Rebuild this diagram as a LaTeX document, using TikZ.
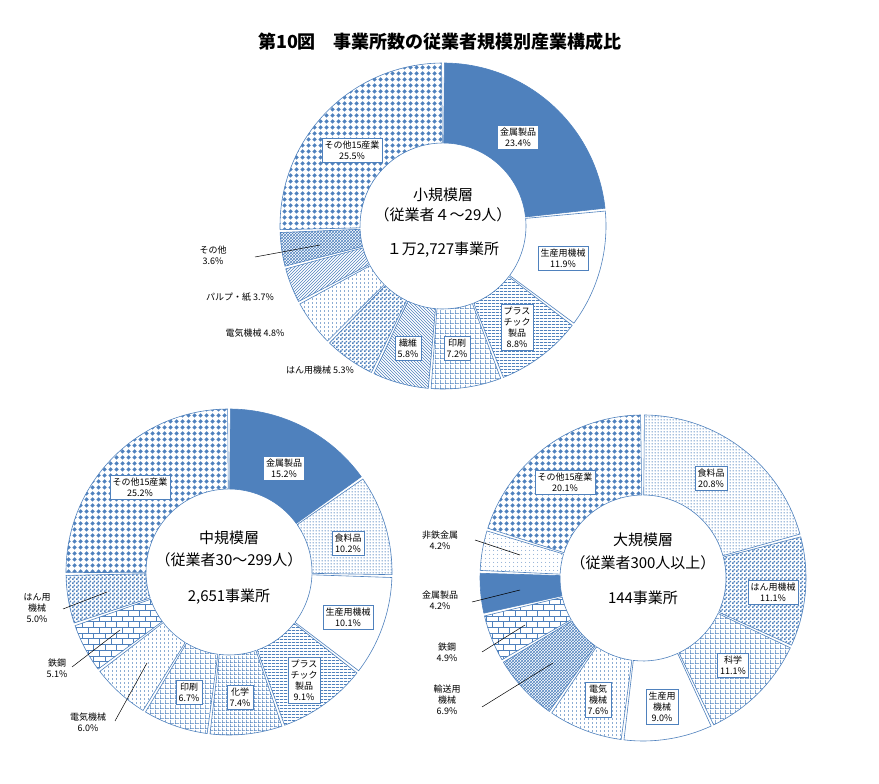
\documentclass[tikz,border=0pt]{standalone}
\usepackage{fontspec}
\setmainfont{Noto Sans CJK JP}
\usetikzlibrary{patterns,calc}
\definecolor{cb}{HTML}{4F81BD}
\pgfdeclarepatternformonly{diam}{\pgfpointorigin}{\pgfpoint{6pt}{6pt}}{\pgfpoint{6pt}{6pt}}{%
 \pgfpathmoveto{\pgfpoint{3pt}{0.4pt}}\pgfpathlineto{\pgfpoint{5.6pt}{3pt}}\pgfpathlineto{\pgfpoint{3pt}{5.6pt}}\pgfpathlineto{\pgfpoint{0.4pt}{3pt}}\pgfpathclose\pgfusepath{fill}}
\pgfdeclarepatternformonly{hthick}{\pgfpointorigin}{\pgfpoint{4pt}{3pt}}{\pgfpoint{4pt}{3pt}}{%
 \pgfpathrectangle{\pgfpointorigin}{\pgfpoint{4pt}{1.3pt}}\pgfusepath{fill}}
\pgfdeclarepatternformonly{vdash}{\pgfpointorigin}{\pgfpoint{4pt}{4pt}}{\pgfpoint{4pt}{4pt}}{%
 \pgfpathrectangle{\pgfpointorigin}{\pgfpoint{0.8pt}{2.2pt}}\pgfusepath{fill}}
\pgfdeclarepatternformonly{gridb}{\pgfpointorigin}{\pgfpoint{5pt}{5pt}}{\pgfpoint{5pt}{5pt}}{%
 \pgfpathrectangle{\pgfpointorigin}{\pgfpoint{5pt}{0.7pt}}\pgfpathrectangle{\pgfpointorigin}{\pgfpoint{0.7pt}{5pt}}\pgfusepath{fill}}
\pgfdeclarepatternformonly{gridf}{\pgfpointorigin}{\pgfpoint{3.5pt}{3.5pt}}{\pgfpoint{3.5pt}{3.5pt}}{%
 \pgfpathrectangle{\pgfpointorigin}{\pgfpoint{3.5pt}{0.7pt}}\pgfpathrectangle{\pgfpointorigin}{\pgfpoint{0.7pt}{3.5pt}}\pgfusepath{fill}}
\pgfdeclarepatternformonly{ddots}{\pgfpointorigin}{\pgfpoint{3pt}{3pt}}{\pgfpoint{3pt}{3pt}}{%
 \pgfpathcircle{\pgfpoint{1.5pt}{1.5pt}}{0.85pt}\pgfusepath{fill}}
\pgfdeclarepatternformonly{sdots}{\pgfpointorigin}{\pgfpoint{4pt}{4pt}}{\pgfpoint{4pt}{4pt}}{%
 \pgfpathcircle{\pgfpoint{2pt}{2pt}}{0.5pt}\pgfusepath{fill}}
\pgfdeclarepatternformonly{chk}{\pgfpointorigin}{\pgfpoint{4pt}{4pt}}{\pgfpoint{4pt}{4pt}}{%
 \pgfpathrectangle{\pgfpointorigin}{\pgfpoint{2pt}{2pt}}\pgfpathrectangle{\pgfpoint{2pt}{2pt}}{\pgfpoint{2pt}{2pt}}\pgfusepath{fill}}
\tikzset{
 s-solid/.style={fill=cb},
 s-none/.style={fill=white},
 s-hl/.style={pattern=hthick,pattern color=cb},
 s-vl/.style={pattern=vdash,pattern color=cb},
 s-ne/.style={pattern=north east lines,pattern color=cb},
 s-nw/.style={pattern=north west lines,pattern color=cb},
 s-grid/.style={pattern=gridb,pattern color=cb},
 s-gridf/.style={pattern=gridf,pattern color=cb},
 s-ch/.style={pattern=crosshatch,pattern color=cb},
 s-diam/.style={pattern=diam,pattern color=cb},
 s-dots/.style={pattern=ddots,pattern color=cb},
 s-sdots/.style={pattern=sdots,pattern color=cb},
 s-brick/.style={pattern=bricks,pattern color=cb},
 s-check/.style={pattern=chk,pattern color=cb},
 lab/.style={draw=cb,fill=white,font=\fontsize{9}{11}\selectfont,align=center,inner sep=2.5pt},
 olab/.style={font=\fontsize{9}{11}\selectfont,align=center,inner sep=1pt},
 ctr/.style={font=\fontsize{15}{17}\selectfont},
 lead/.style={draw=black,line width=.5pt},
}
\newcommand\donut[3]{%
 \foreach \v/\p [remember=\e as \s (initially 0), evaluate=\v as \e using \s+\v] in {#3}{
   \pgfmathsetmacro\aa{90-3.6*\s-0.5}\pgfmathsetmacro\ab{90-3.6*\e+0.5}
   \path[\p,draw=cb,line width=.6pt] (#1,#2) ++(\aa:163) arc[start angle=\aa,end angle=\ab,radius=163] -- ($(#1,#2)+(\ab:83)$) arc[start angle=\ab,end angle=\aa,radius=83] -- cycle;
 }}
\begin{document}
\begin{tikzpicture}[x=1pt,y=1pt]
\useasboundingbox (0,0) rectangle (879,784);
\node[font=\bfseries\fontsize{18}{20}\selectfont] (title) at (440,742) {第10図　事業所数の従業者規模別産業構成比};
% top
\donut{443}{558}{23.4/s-solid,11.9/s-none,8.8/s-hl,7.2/s-grid,5.8/s-nw,5.3/s-check,4.8/s-vl,3.7/s-ne,3.6/s-ch,25.5/s-diam}
\node[ctr] (t1) at (443,589) {小規模層};
\node[ctr] (t2) at (443,569) {（従業者４～29人）};
\node[ctr] (t3) at (443,534) {１万2,727事業所};
\node[lab] (ta) at (518,647) {金属製品\\23.4\%};
\node[lab] (tb) at (563,526) {生産用機械\\11.9\%};
\node[lab] (tc) at (517,457) {プラス\\チック\\製品\\8.8\%};
\node[lab] (td) at (457,436) {印刷\\7.2\%};
\node[lab] (te) at (408,436) {繊維\\5.8\%};
\node[lab] (tf) at (352,634) {その他15産業\\25.5\%};
\node[olab] (tg) at (213,529) {その他\\3.6\%};
\node[olab] (th) at (240,487) {パルプ・紙 3.7\%};
\node[olab] (ti) at (255,451) {電気機械 4.8\%};
\node[olab] (tj) at (320,414) {はん用機械 5.3\%};
\coordinate (tgq) at (255,527); \coordinate (tgp) at (320,539);
\draw[lead] (tgq) -- (tgp);
% bottom left
\donut{229}{212}{15.2/s-solid,10.2/s-dots,10.1/s-none,9.1/s-hl,7.4/s-gridf,6.7/s-grid,6.0/s-vl,5.1/s-brick,5.0/s-check,25.2/s-diam}
\node[ctr] (m1) at (229,246) {中規模層};
\node[ctr] (m2) at (229,224) {（従業者30～299人）};
\node[ctr] (m3) at (229,187) {2,651事業所};
\node[lab] (ma) at (284,316) {金属製品\\15.2\%};
\node[lab] (mb) at (348,241) {食料品\\10.2\%};
\node[lab] (mc) at (348,167) {生産用機械\\10.1\%};
\node[lab] (md) at (304,104) {プラス\\チック\\製品\\9.1\%};
\node[lab] (me) at (240,87) {化学\\7.4\%};
\node[lab] (mf) at (189,92) {印刷\\6.7\%};
\node[lab] (mg) at (140,297) {その他15産業\\25.2\%};
\node[olab] (mh) at (37,176) {はん用\\機械\\5.0\%};
\node[olab] (mi) at (57,116) {鉄鋼\\5.1\%};
\node[olab] (mj) at (88,62) {電気機械\\6.0\%};
\coordinate (mh1) at (63,175); \coordinate (mh2) at (107,192);
\coordinate (mi1) at (72,117); \coordinate (mi2) at (120,154);
\coordinate (mj1) at (115,63); \coordinate (mj2) at (147,121);
\draw[lead] (mh1) -- (mh2); \draw[lead] (mi1) -- (mi2); \draw[lead] (mj1) -- (mj2);
% bottom right
\donut{643}{206}{20.8/s-dots,11.1/s-check,11.1/s-grid,9.0/s-none,7.6/s-vl,6.9/s-ch,4.9/s-brick,4.2/s-solid,4.2/s-sdots,20.1/s-diam}
\node[ctr] (r1) at (643,244) {大規模層};
\node[ctr] (r2) at (643,221) {（従業者300人以上）};
\node[ctr] (r3) at (643,186) {144事業所};
\node[lab] (ra) at (711,306) {食料品\\20.8\%};
\node[lab] (rb) at (773,192) {はん用機械\\11.1\%};
\node[lab] (rc) at (733,119) {科学\\11.1\%};
\node[lab] (rd) at (662,77) {生産用\\機械\\9.0\%};
\node[lab] (re) at (598,84) {電気\\機械\\7.6\%};
\node[lab] (rf) at (565,302) {その他15産業\\20.1\%};
\node[olab] (rg) at (440,244) {非鉄金属\\4.2\%};
\node[olab] (rh) at (440,184) {金属製品\\4.2\%};
\node[olab] (ri) at (447,132) {鉄鋼\\4.9\%};
\node[olab] (rj) at (447,84) {輸送用\\機械\\6.9\%};
\coordinate (rg1) at (475,244); \coordinate (rg2) at (520,229);
\coordinate (rh1) at (472,182); \coordinate (rh2) at (520,194);
\coordinate (ri1) at (482,132); \coordinate (ri2) at (525,159);
\coordinate (rj1) at (482,77); \coordinate (rj2) at (553,121);
\draw[lead] (rg1) -- (rg2); \draw[lead] (rh1) -- (rh2); \draw[lead] (ri1) -- (ri2); \draw[lead] (rj1) -- (rj2);
\end{tikzpicture}
\end{document}
